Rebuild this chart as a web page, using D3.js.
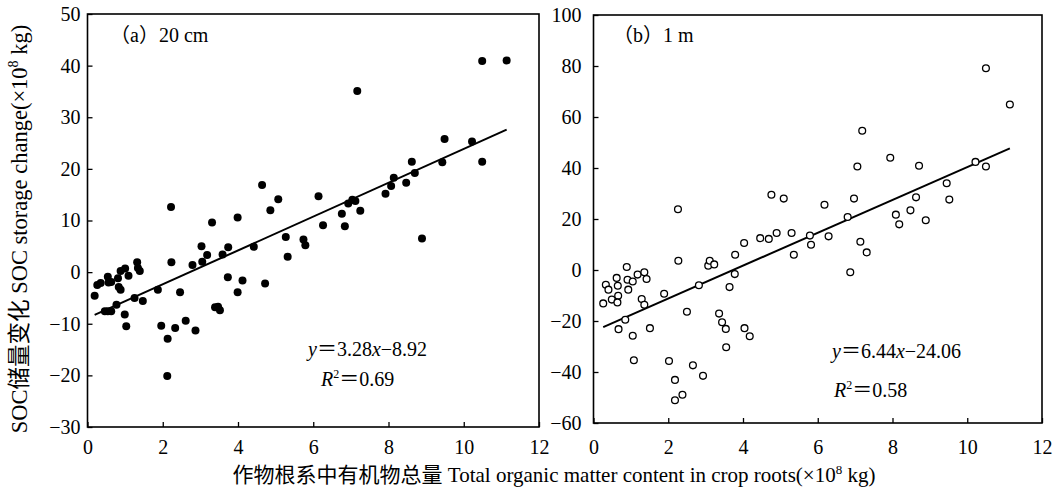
<!DOCTYPE html>
<html>
<head>
<meta charset="utf-8">
<script src="https://cdn.jsdelivr.net/npm/d3@7"></script>
<style>
  body { margin: 0; background: #fff; }
  text { font-family: "Liberation Serif", "Times New Roman", "Noto Sans CJK SC", serif; fill: #000; }
</style>
</head>
<body>
<div id="chart"></div>
<script>
// Data (x = root organic matter, y = SOC storage change)
// Panel a: 20 cm
var xA = [0.19, 0.26, 0.35, 0.46, 0.54, 0.63, 0.54, 0.56, 0.63, 0.77, 0.83, 0.88, 0.81, 0.88, 1.00, 1.09,
  0.99, 1.03, 1.25, 1.32, 1.34, 1.39, 1.47, 1.87, 1.96, 2.23, 2.13, 2.12, 2.33, 2.46, 2.61, 2.79,
  2.87, 3.05, 3.18, 3.39, 3.47, 3.52, 3.59, 3.73, 3.99, 4.12, 4.72, 5.32, 2.22, 3.03, 3.31, 3.74,
  3.99, 4.42, 4.64, 4.86, 5.07, 5.27, 5.74, 5.79, 6.14, 6.26, 6.76, 6.84, 6.93, 7.04, 7.12, 7.17,
  7.25, 10.49, 11.14, 9.49, 10.22, 8.62, 9.43, 10.49, 8.70, 8.14, 8.47, 8.07, 7.92, 8.89];
var yA = [-4.6, -2.5, -2.1, -7.6, -7.6, -7.6, -0.9, -2.0, -1.9, -6.3, -2.9, -3.4, -1.2, 0.2, 0.7, -0.7,
  -8.2, -10.5, -5.0, 1.9, 0.8, 0.2, -5.6, -3.4, -10.4, 1.9, -12.9, -20.1, -10.8, -3.9, -9.4, 1.4,
  -11.3, 2.0, 3.3, -6.8, -6.7, -7.4, 3.4, -1.0, -3.9, -1.6, -2.2, 3.0, 12.6, 5.0, 9.6, 4.8,
  10.6, 4.9, 16.9, 12.0, 14.1, 6.8, 6.3, 5.2, 14.7, 9.1, 11.3, 8.9, 13.3, 14.0, 13.8, 35.1,
  11.9, 40.9, 41.0, 25.8, 25.3, 21.4, 21.3, 21.4, 19.2, 18.3, 17.3, 16.7, 15.2, 6.5];

// Panel b: 1 m
var xB = [0.26, 0.33, 0.40, 0.49, 0.62, 0.65, 0.66, 0.64, 0.67, 0.85, 0.89, 0.91, 0.93, 1.05, 1.05, 1.08,
  1.18, 1.29, 1.36, 1.36, 1.42, 1.51, 1.89, 2.02, 2.18, 2.18, 2.27, 2.38, 2.50, 2.66, 2.82, 2.93,
  3.07, 3.11, 3.23, 3.36, 3.44, 3.54, 3.55, 3.64, 3.78, 3.79, 4.03, 4.04, 4.18, 4.46, 4.69, 4.90,
  5.30, 5.36, 5.79, 5.82, 2.26, 4.76, 5.09, 10.50, 11.14, 7.19, 7.94, 7.06, 8.71, 10.22, 10.50,
  9.45, 9.52, 8.63, 8.48, 8.09, 8.18, 8.89, 6.18, 6.97, 6.80, 6.29, 7.14, 7.31, 6.87];
var yB = [-13.1, -5.8, -7.7, -11.6, -3.1, -6.2, -10.1, -12.7, -23.2, -19.5, 1.2, -3.8, -7.7, -25.8, -4.5, -35.4,
  -1.8, -11.4, -13.6, -0.9, -3.5, -22.8, -9.3, -35.7, -43.1, -51.1, 3.6, -48.9, -16.4, -37.4, -6.0, -41.5,
  1.7, 3.6, 2.2, -17.1, -20.5, -23.1, -30.3, -6.7, -1.6, 6.0, 10.6, -22.8, -26.0, 12.5, 12.2, 14.5,
  14.5, 6.0, 13.5, 9.9, 23.8, 29.5, 28.0, 79.1, 64.9, 54.6, 44.0, 40.6, 40.9, 42.4, 40.6,
  34.0, 27.6, 28.5, 23.4, 21.7, 17.9, 19.5, 25.6, 28.0, 20.8, 13.2, 11.1, 6.9, -0.9];

// fitted lines as printed on the chart
var slopes = [3.28, 6.44];
var intercepts = [-8.92, -24.06];
var r2 = ["0.69", "0.58"];
var panelLabels = ["（a）20 cm", "（b）1 m"];

// tick labels
var xTicks = [0, 2, 4, 6, 8, 10, 12];
var yTicksA = [-30, -20, -10, 0, 10, 20, 30, 40, 50];
var yTicksB = [-60, -40, -20, 0, 20, 40, 60, 80, 100];

var width = 1058;
var height = 499;

var svg = d3
  .select("#chart")
  .append("svg")
  .attr("width", width)
  .attr("height", height);

// panel geometry
var panels = [
  { xs: xA, ys: yA, left: 87.5, right: 539, top: 14, bottom: 427, yDom: [-30, 50], yTicks: yTicksA,
    yPad: 7, xPad: 13, filled: true, eqX: 308, eqY: 356, r2X: 321, r2Y: 386, labX: 110, labY: 42 },
  { xs: xB, ys: yB, left: 593.5, right: 1042, top: 15, bottom: 423, yDom: [-60, 100], yTicks: yTicksB,
    yPad: 12, xPad: 17, filled: false, eqX: 832, eqY: 358, r2X: 834, r2Y: 397, labX: 613, labY: 42 }
];

panels.forEach(function(p, i) {
  var xScale = d3.scaleLinear().domain([0, 12]).range([p.left, p.right]);
  var yScale = d3.scaleLinear().domain(p.yDom).range([p.bottom, p.top]);

  // axes with inward ticks
  var gx = svg
    .append("g")
    .attr("transform", "translate(0," + p.bottom + ")")
    .call(d3.axisBottom(xScale).tickValues(xTicks).tickSizeInner(-5).tickSizeOuter(0).tickPadding(p.xPad));
  var gy = svg
    .append("g")
    .attr("transform", "translate(" + p.left + ",0)")
    .call(d3.axisLeft(yScale).tickValues(p.yTicks).tickSizeInner(-5).tickSizeOuter(0).tickPadding(p.yPad));

  [gx, gy].forEach(function(g) {
    g.select(".domain").remove();
    g.selectAll("line").attr("stroke", "#000").attr("stroke-width", 1.3);
    g.selectAll("text").attr("font-size", 20).attr("font-family", null);
  });

  // frame
  svg
    .append("rect")
    .attr("x", p.left)
    .attr("y", p.top)
    .attr("width", p.right - p.left)
    .attr("height", p.bottom - p.top)
    .attr("fill", "none")
    .attr("stroke", "#000")
    .attr("stroke-width", 1.6);

  // regression line from min x to max x
  var x0 = d3.min(p.xs);
  var x1 = d3.max(p.xs);
  svg
    .append("line")
    .attr("x1", xScale(x0))
    .attr("y1", yScale(slopes[i] * x0 + intercepts[i]))
    .attr("x2", xScale(x1))
    .attr("y2", yScale(slopes[i] * x1 + intercepts[i]))
    .attr("stroke", "#000")
    .attr("stroke-width", 2);

  // points
  svg
    .append("g")
    .selectAll("circle")
    .data(d3.range(p.xs.length))
    .enter()
    .append("circle")
    .attr("cx", function(k) { return xScale(p.xs[k]); })
    .attr("cy", function(k) { return yScale(p.ys[k]); })
    .attr("r", p.filled ? 4 : 3.4)
    .attr("fill", p.filled ? "#000" : "#fff")
    .attr("stroke", "#000")
    .attr("stroke-width", p.filled ? 0 : 1.3);

  // panel label
  svg
    .append("text")
    .attr("x", p.labX)
    .attr("y", p.labY)
    .attr("font-size", 20)
    .text(panelLabels[i]);

  // equation
  var eq = svg.append("text").attr("x", p.eqX).attr("y", p.eqY).attr("font-size", 20);
  eq.append("tspan").attr("font-style", "italic").text("y");
  eq.append("tspan").text("＝" + slopes[i].toFixed(2));
  eq.append("tspan").attr("font-style", "italic").text("x");
  eq.append("tspan").text("−" + Math.abs(intercepts[i]).toFixed(2));

  var rt = svg.append("text").attr("x", p.r2X).attr("y", p.r2Y).attr("font-size", 20);
  rt.append("tspan").attr("font-style", "italic").text("R");
  rt.append("tspan").attr("font-size", 12).attr("dy", -8).text("2");
  rt.append("tspan").attr("dy", 8).text("＝" + r2[i]);
});

// axis titles
var xTitle = svg
  .append("text")
  .attr("x", 554)
  .attr("y", 482)
  .attr("text-anchor", "middle")
  .attr("font-size", 21);
xTitle.append("tspan").text("作物根系中有机物总量 Total organic matter content in crop roots(×10");
xTitle.append("tspan").attr("font-size", 13).attr("dy", -8).text("8");
xTitle.append("tspan").attr("dy", 8).text(" kg)");

var yTitle = svg
  .append("text")
  .attr("transform", "translate(27,229)rotate(-90)")
  .attr("text-anchor", "middle")
  .attr("font-size", 22.5);
yTitle.append("tspan").text("SOC储量变化 SOC storage change(×10");
yTitle.append("tspan").attr("font-size", 14).attr("dy", -9).text("8");
yTitle.append("tspan").attr("dy", 9).text(" kg)");
</script>
</body>
</html>
